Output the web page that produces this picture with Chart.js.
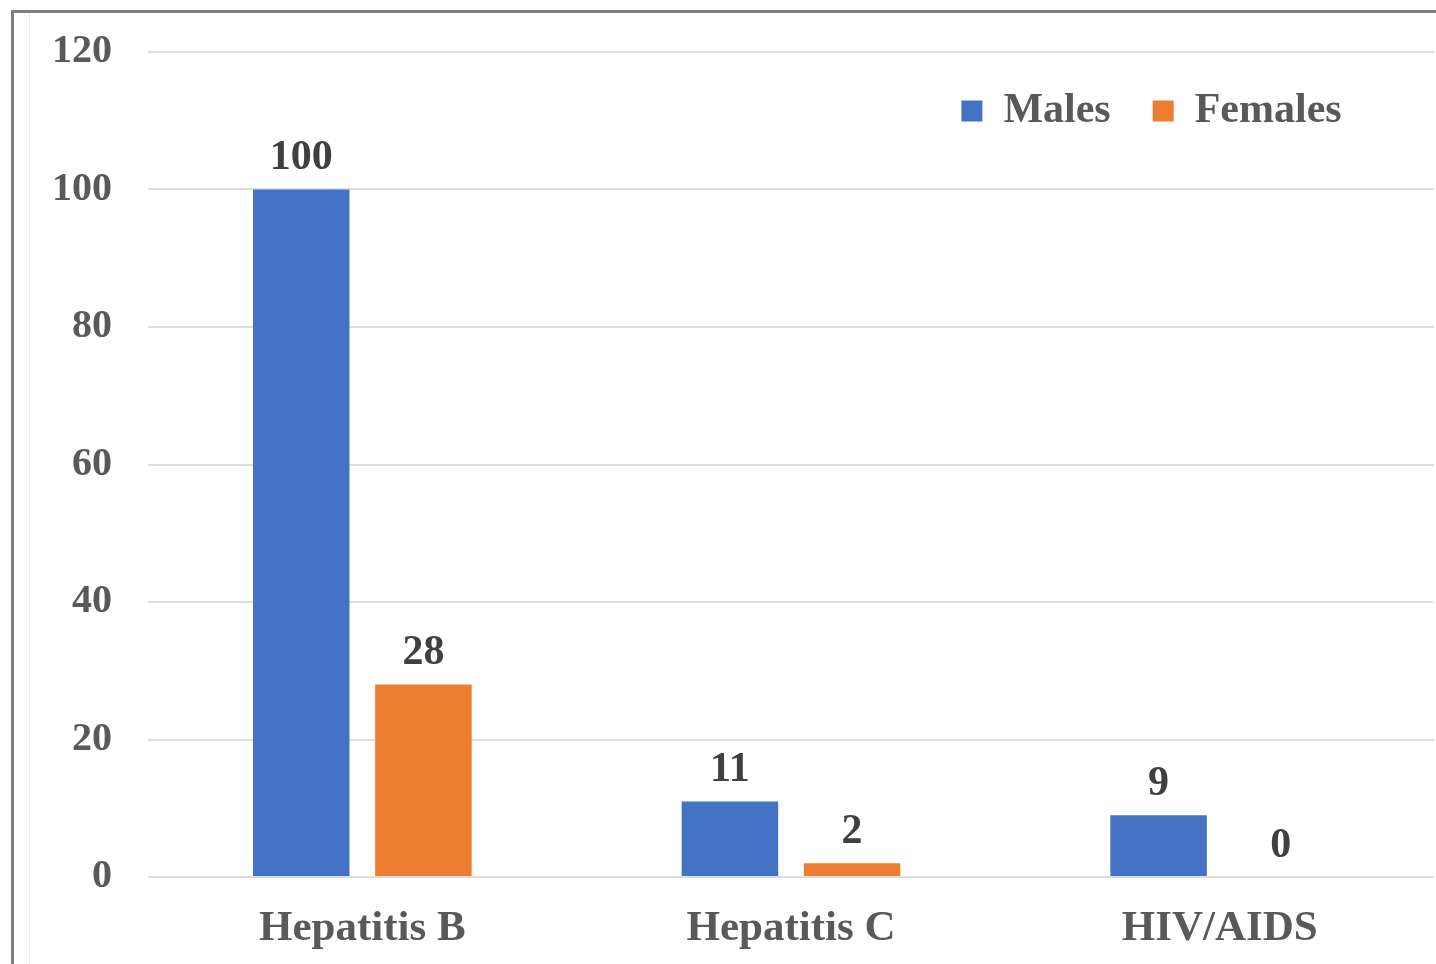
<!DOCTYPE html>
<html>
<head>
<meta charset="utf-8">
<script src="https://cdn.jsdelivr.net/npm/chart.js@4.4.1/dist/chart.umd.min.js"></script>
<style>
  html, body { margin: 0; padding: 0; background: #fff; overflow: hidden; }
  #wrap { position: absolute; left: 0; top: 0; width: 1436px; height: 964px; }
  #frame {
    position: absolute; left: 11px; top: 10px; width: 1500px; height: 1000px;
    border-left: 3px solid #7f7f7f; border-top: 3px solid #7f7f7f;
    pointer-events: none;
  }
  #inner {
    position: absolute; left: 29px; top: 14px; width: 1px; height: 960px;
    background: #ececec; pointer-events: none;
  }
</style>
</head>
<body>
<div id="wrap">
  <canvas id="bar-chart"></canvas>
</div>
<div id="frame"></div>
<div id="inner"></div>
<script>
const categories = ['Hepatitis B', 'Hepatitis C', 'HIV/AIDS'];
const males = [100, 11, 9];
const females = [28, 2, 0];
const seriesNames = ['Males', 'Females'];

const COLORS = {
  blue: '#4472C4',
  orange: '#ED7D31',
  text: '#595959',
  label: '#404040',
  grid: '#dedede',
};
const FONT = "'Liberation Serif', 'Times New Roman', serif";
const LEGEND_PAD = 42;

// valores encima de cada barra
const valueLabels = {
  id: 'valueLabels',
  afterDatasetsDraw(chart) {
    const ctx = chart.ctx;
    ctx.save();
    ctx.font = 'bold 42px ' + FONT;
    ctx.fillStyle = COLORS.label;
    ctx.textAlign = 'center';
    ctx.textBaseline = 'middle';
    chart.data.datasets.forEach((ds, i) => {
      chart.getDatasetMeta(i).data.forEach((bar, j) => {
        ctx.fillText(String(ds.data[j]), bar.x, bar.y - 31);
      });
    });
    ctx.restore();
  }
};

// llevar la leyenda dentro del área del gráfico (arriba a la derecha)
const legendShift = {
  id: 'legendShift',
  afterLayout(chart) {
    const lg = chart.legend;
    if (!lg) return;
    const area = chart.chartArea;
    lg.top = area.top + 59 - LEGEND_PAD - 21;
    lg.bottom = lg.top + 100;
    lg.left = area.left + (area.right - area.left) * 0.6325 - LEGEND_PAD;
  }
};

const ctx = document.getElementById('bar-chart').getContext('2d');
new Chart(ctx, {
  type: 'bar',
  data: {
    labels: categories,
    datasets: [
      {
        label: seriesNames[0],
        data: males,
        backgroundColor: COLORS.blue,
        borderWidth: 0,
        categoryPercentage: 0.57,
        barPercentage: 0.79,
      },
      {
        label: seriesNames[1],
        data: females,
        backgroundColor: COLORS.orange,
        borderWidth: 0,
        categoryPercentage: 0.57,
        barPercentage: 0.79,
      },
    ],
  },
  options: {
    responsive: true,
    maintainAspectRatio: false,
    animation: false,
    layout: {
      padding: { left: 19, top: 51, right: 2, bottom: 0 },
    },
    plugins: {
      tooltip: { enabled: false },
      legend: {
        position: 'top',
        align: 'start',
        maxHeight: 1,
        labels: {
          boxWidth: 21,
          boxHeight: 21,
          padding: LEGEND_PAD,
          color: COLORS.text,
          font: { family: FONT, size: 42, weight: 'bold' },
        },
      },
    },
    scales: {
      x: {
        grid: { display: false, drawTicks: false },
        border: { display: false },
        ticks: {
          padding: 26,
          color: COLORS.text,
          font: { family: FONT, size: 43, weight: 'bold' },
        },
        afterFit(scale) { scale.height = 87; },
      },
      y: {
        min: 0,
        max: 120,
        ticks: {
          stepSize: 20,
          padding: 36,
          color: COLORS.text,
          font: { family: FONT, size: 40, weight: 'bold' },
        },
        grid: { color: COLORS.grid, lineWidth: 2, drawTicks: false },
        border: { display: false },
        afterFit(scale) {
          scale.width = 129;
          scale.paddingTop = 0;
          scale.paddingBottom = 0;
        },
      },
    },
  },
  plugins: [valueLabels, legendShift],
});
</script>
</body>
</html>
